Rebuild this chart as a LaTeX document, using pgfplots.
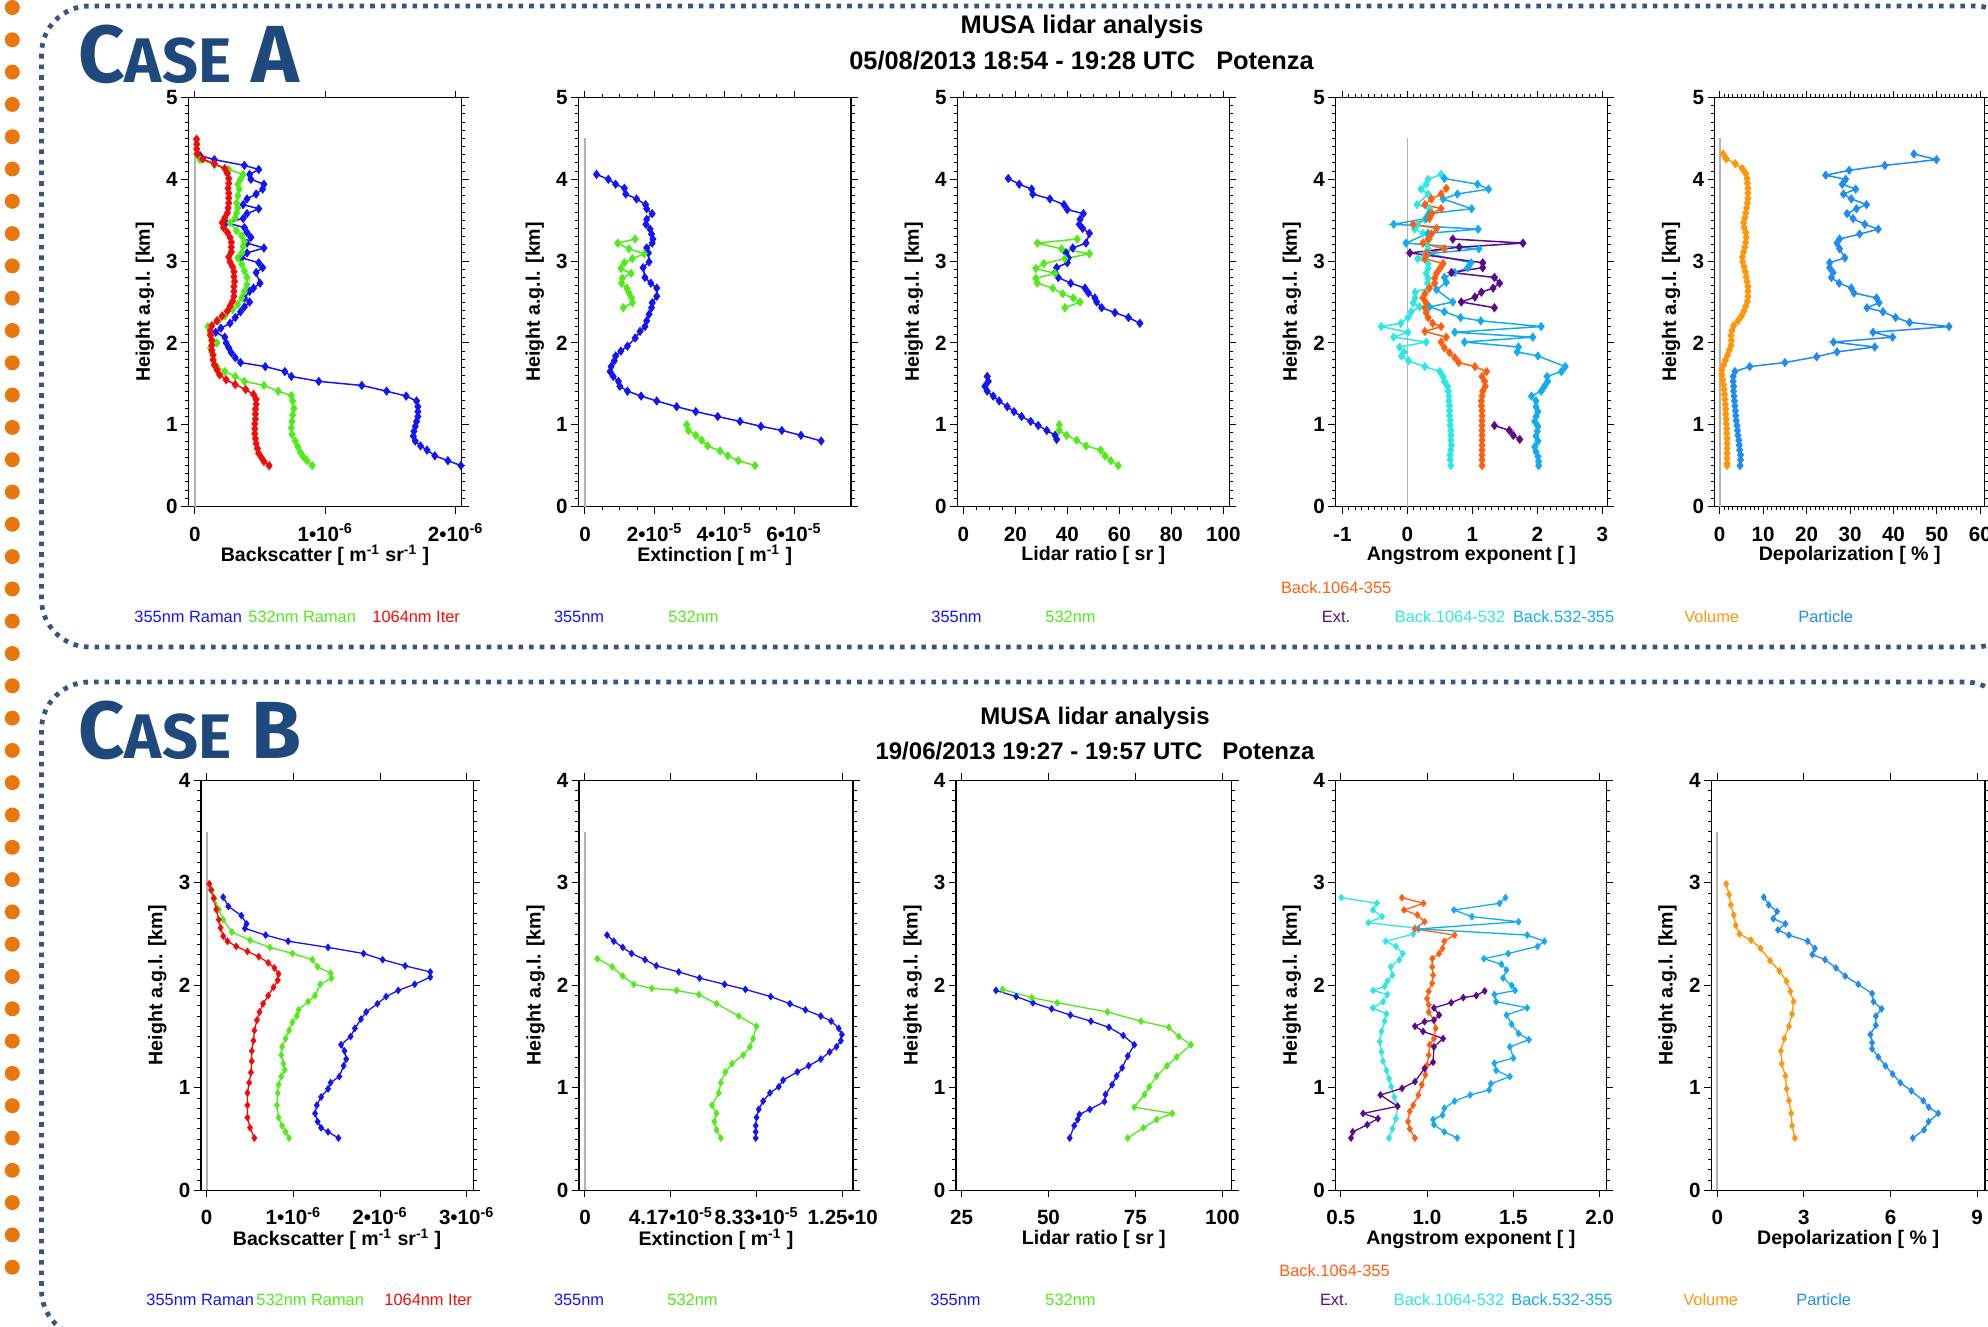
\documentclass[border=0pt]{standalone}
\usepackage{pgfplots}
\pgfplotsset{compat=1.18}
\usepackage{fontspec}
\setmainfont{Liberation Sans}
\newfontfamily\casefont{Fira Sans}

\definecolor{cblue}{RGB}{20,20,245}
\definecolor{cgreen}{RGB}{80,235,25}
\definecolor{cred}{RGB}{245,10,10}
\definecolor{corange}{RGB}{255,95,15}
\definecolor{cpurple}{RGB}{90,10,140}
\definecolor{ccyan}{RGB}{45,232,225}
\definecolor{csky}{RGB}{20,170,240}
\definecolor{cvol}{RGB}{255,150,10}
\definecolor{cpart}{RGB}{30,140,240}
\definecolor{casecol}{RGB}{31,73,125}
\definecolor{bordercol}{RGB}{55,85,130}
\definecolor{dotcol}{RGB}{232,119,14}

\newcommand\legfont{\fontsize{8.2}{9}\selectfont}
\newcommand\tb{\textbullet}

\pgfplotsset{
  /pgf/number format/assume math mode=true,
  lid/.style={
    scale only axis, anchor=south west,
    axis line style={line width=0.7pt},
    tick align=outside, tick pos=both,
    major tick length=3.5pt, minor tick length=1.8pt,
    every tick/.append style={line width=0.5pt, black},
    minor y tick num=9,
    ymin=0,
    tick label style={font=\bfseries\fontsize{10.3}{11}\selectfont},
    xticklabel style={anchor=base, yshift=-13.8pt},
    yticklabel style={inner sep=1.6pt},
    label style={font=\bfseries\fontsize{9.8}{11}\selectfont},
    ylabel={Height a.g.l. [km]},
    ylabel style={at={([xshift=-21.75pt]axis description cs:0,0.5)}, anchor=center},
    xlabel style={at={([yshift=-24.5pt]axis description cs:0.5,0)}, anchor=center},
    every axis plot/.append style={line width=0.75pt, mark=diamond*, mark size=1.75pt, mark options={solid}},
  },
  la/.style={lid, height=204.5pt, ymax=5, ytick={0,1,2,3,4,5}},
  lb/.style={lid, height=205pt, ymax=4, ytick={0,1,2,3,4},
    every axis plot/.append style={mark size=1.45pt, line width=0.65pt}},
}

\begin{document}
\begin{tikzpicture}
\useasboundingbox (0,0) rectangle (994pt,-663.5pt);
\clip (0,0) rectangle (994pt,-663.5pt);

% slide decoration
\foreach \i in {0,...,39} \fill[dotcol] (6.15pt,{-(3.75+16.15*\i)*1pt}) circle[radius=3.75pt];
\draw[bordercol, line width=2.4pt, dash pattern=on 2.3pt off 3pt, rounded corners=24pt]
  (20.75pt,-3pt) rectangle (1011.5pt,-323.5pt);
\draw[bordercol, line width=2.4pt, dash pattern=on 2.3pt off 3pt, rounded corners=24pt]
  (20.75pt,-341pt) rectangle (1006.5pt,-669pt);

\node[anchor=base west, text=casecol, inner sep=0pt, text depth=0pt] at (39pt,-41.5pt)
  {\casefont\bfseries{\fontsize{40.5}{40}\selectfont C}{\fontsize{31.5}{32}\selectfont ASE}\hspace{10pt}{\fontsize{40.5}{40}\selectfont A}};
\node[anchor=base west, text=casecol, inner sep=0pt, text depth=0pt] at (39pt,-379.2pt)
  {\casefont\bfseries{\fontsize{40.5}{40}\selectfont C}{\fontsize{31.5}{32}\selectfont ASE}\hspace{10pt}{\fontsize{40.5}{40}\selectfont B}};

% titles
\node[anchor=base, font=\bfseries\fontsize{12.7}{14}\selectfont] at (541pt,-17pt) {MUSA lidar analysis};
\node[anchor=base, font=\bfseries\fontsize{12.7}{14}\selectfont] at (540.75pt,-34.85pt) {05/08/2013 18:54 - 19:28 UTC\ \ \ Potenza};
\node[anchor=base, font=\bfseries\fontsize{12}{14}\selectfont] at (547.5pt,-362.3pt) {MUSA lidar analysis};
\node[anchor=base, font=\bfseries\fontsize{12}{14}\selectfont] at (547.5pt,-379.8pt) {19/06/2013 19:27 - 19:57 UTC\ \ \ Potenza};

% ================= CASE A =================
\begin{axis}[la, at={(94.15pt,-253.25pt)}, width=136.7pt,
  xmin=-0.050, xmax=2.046, xtick={0,1,2},
  xticklabels={0, 1\tb10\textsuperscript{-6}, 2\tb10\textsuperscript{-6}},
  xlabel={Backscatter [ m\textsuperscript{-1} sr\textsuperscript{-1} ]}]
\addplot[gray!60, line width=0.8pt, mark=none] coordinates {(0,0) (0,4.5)};
\addplot[cblue] coordinates {(0.04,4.29) (0.15,4.24) (0.38,4.17) (0.49,4.12) (0.42,4.06) (0.43,4.00) (0.53,3.94) (0.52,3.88) (0.47,3.82) (0.40,3.76) (0.37,3.69) (0.49,3.64) (0.40,3.58) (0.37,3.52) (0.24,3.47) (0.38,3.41) (0.40,3.35) (0.43,3.29) (0.40,3.22) (0.53,3.16) (0.40,3.10) (0.36,3.04) (0.49,2.98) (0.52,2.92) (0.47,2.86) (0.50,2.73) (0.45,2.67) (0.42,2.63) (0.38,2.55) (0.42,2.50) (0.38,2.44) (0.35,2.38) (0.31,2.31) (0.27,2.24) (0.20,2.18) (0.16,2.13) (0.23,2.07) (0.24,2.00) (0.26,1.94) (0.28,1.88) (0.31,1.82) (0.35,1.76) (0.54,1.71) (0.69,1.65) (0.74,1.59) (0.95,1.53) (1.28,1.48) (1.47,1.41) (1.62,1.35) (1.70,1.29) (1.71,1.22) (1.71,1.16) (1.71,1.10) (1.70,1.04) (1.69,0.98) (1.68,0.92) (1.675,0.86) (1.69,0.80) (1.73,0.74) (1.78,0.69) (1.84,0.62) (1.94,0.56) (2.04,0.50)};
\addplot[cgreen] coordinates {(0.013,4.31) (0.04,4.24) (0.15,4.18) (0.26,4.12) (0.37,4.06) (0.35,4.00) (0.33,3.94) (0.34,3.88) (0.33,3.80) (0.32,3.71) (0.33,3.65) (0.32,3.59) (0.31,3.53) (0.27,3.47) (0.32,3.37) (0.36,3.31) (0.38,3.24) (0.37,3.18) (0.36,3.10) (0.33,3.04) (0.36,2.96) (0.38,2.88) (0.40,2.80) (0.40,2.71) (0.38,2.63) (0.36,2.55) (0.33,2.47) (0.29,2.41) (0.23,2.33) (0.18,2.27) (0.10,2.20) (0.115,2.12) (0.17,2.00) (0.12,1.94) (0.13,1.88) (0.14,1.80) (0.17,1.71) (0.23,1.65) (0.31,1.59) (0.38,1.53) (0.53,1.48) (0.64,1.41) (0.74,1.355) (0.75,1.29) (0.76,1.20) (0.75,1.12) (0.745,1.04) (0.74,0.96) (0.745,0.88) (0.77,0.80) (0.79,0.73) (0.81,0.66) (0.83,0.61) (0.86,0.56) (0.90,0.50)};
\addplot[cred] coordinates {(0.013,4.49) (0.015,4.43) (0.015,4.37) (0.02,4.31) (0.06,4.25) (0.15,4.19) (0.23,4.13) (0.25,4.07) (0.26,4.01) (0.26,3.95) (0.255,3.89) (0.26,3.83) (0.26,3.77) (0.26,3.71) (0.255,3.65) (0.25,3.59) (0.23,3.53) (0.21,3.47) (0.22,3.41) (0.25,3.35) (0.27,3.29) (0.28,3.23) (0.28,3.17) (0.28,3.11) (0.26,3.05) (0.27,2.99) (0.29,2.93) (0.30,2.87) (0.30,2.81) (0.305,2.75) (0.30,2.69) (0.30,2.63) (0.30,2.57) (0.29,2.51) (0.27,2.45) (0.25,2.39) (0.21,2.33) (0.17,2.27) (0.13,2.21) (0.12,2.15) (0.12,2.09) (0.13,2.03) (0.13,1.97) (0.13,1.91) (0.14,1.85) (0.14,1.79) (0.15,1.73) (0.17,1.67) (0.19,1.61) (0.24,1.55) (0.31,1.49) (0.39,1.43) (0.45,1.37) (0.47,1.31) (0.47,1.25) (0.465,1.19) (0.465,1.13) (0.465,1.07) (0.46,1.01) (0.46,0.95) (0.46,0.89) (0.465,0.83) (0.47,0.77) (0.48,0.71) (0.49,0.65) (0.51,0.60) (0.53,0.55) (0.57,0.50)};
\end{axis}

\begin{axis}[la, at={(289.15pt,-253.25pt)}, width=136.35pt,
  xmin=-0.192, xmax=7.636, xtick={0,2,4,6}, minor x tick num=3,
  xticklabels={0, 2\tb10\textsuperscript{-5}, 4\tb10\textsuperscript{-5}, 6\tb10\textsuperscript{-5}},
  xlabel={Extinction [ m\textsuperscript{-1} ]}]
\addplot[gray!60, line width=0.8pt, mark=none] coordinates {(0,0) (0,4.5)};
\addplot[cblue] coordinates {(0.33,4.06) (0.67,4.00) (0.88,3.94) (1.13,3.89) (1.17,3.82) (1.48,3.76) (1.74,3.69) (1.77,3.64) (1.93,3.58) (1.77,3.51) (1.75,3.45) (1.87,3.39) (1.91,3.33) (1.95,3.27) (1.93,3.22) (1.77,3.16) (1.82,3.10) (1.84,2.99) (1.67,2.92) (1.72,2.80) (1.89,2.73) (2.06,2.67) (2.06,2.57) (1.93,2.49) (1.91,2.43) (1.84,2.35) (1.77,2.27) (1.72,2.20) (1.58,2.14) (1.44,2.06) (1.22,1.96) (1.03,1.90) (0.88,1.84) (0.84,1.78) (0.75,1.71) (0.72,1.65) (0.81,1.59) (0.96,1.53) (1.00,1.47) (1.22,1.41) (1.61,1.35) (2.06,1.29) (2.63,1.22) (3.18,1.16) (3.81,1.10) (4.45,1.04) (5.05,0.98) (5.65,0.93) (6.20,0.87) (6.78,0.80)};
\addplot[cgreen] coordinates {(1.44,3.27) (0.94,3.22) (1.26,3.15) (1.70,3.09) (1.36,3.03) (1.13,2.98) (1.03,2.91) (1.32,2.85) (1.07,2.79) (1.05,2.73) (1.20,2.67) (1.26,2.61) (1.34,2.55) (1.36,2.49) (1.10,2.43)};
\addplot[cgreen] coordinates {(2.92,1.00) (2.97,0.93) (3.18,0.87) (3.35,0.81) (3.52,0.74) (3.88,0.68) (4.10,0.62) (4.40,0.56) (4.88,0.50)};
\end{axis}

\begin{axis}[la, at={(478.65pt,-253.25pt)}, width=136pt,
  xmin=-2.31, xmax=102.3, xtick={0,20,40,60,80,100}, minor x tick num=3,
  xticklabels={0,20,40,60,80,100},
  xlabel={Lidar ratio [ sr ]}]
\addplot[cblue] coordinates {(17.3,4.01) (21.5,3.94) (26.3,3.88) (26.7,3.82) (33.3,3.76) (38.7,3.69) (40.0,3.63) (46.2,3.58) (44.9,3.51) (44.6,3.45) (45.9,3.40) (48.5,3.34) (47.2,3.22) (42.1,3.16) (39.5,3.10) (40.4,3.04) (40.0,2.98) (35.9,2.92) (35.3,2.86) (36.5,2.80) (41.3,2.73) (46.8,2.67) (48.1,2.61) (50.6,2.55) (51.3,2.50) (53.2,2.43) (58.3,2.37) (63.5,2.31) (67.9,2.24)};
\addplot[cgreen] coordinates {(43.8,3.27) (28.5,3.22) (37.8,3.15) (48.5,3.09) (39.1,3.03) (31.0,2.97) (27.9,2.91) (35.3,2.85) (27.9,2.79) (28.5,2.73) (34.4,2.67) (38.2,2.60) (42.3,2.55) (44.9,2.50) (39.1,2.43)};
\addplot[cblue] coordinates {(9.2,1.59) (9.6,1.53) (8.3,1.47) (9.2,1.41) (11.5,1.35) (13.8,1.29) (16.9,1.22) (19.5,1.16) (22.4,1.10) (25.9,1.04) (28.8,0.99) (32.1,0.93) (35.3,0.87) (35.9,0.82)};
\addplot[cgreen] coordinates {(36.9,1.00) (36.9,0.93) (39.7,0.87) (43.6,0.81) (47.2,0.74) (52.8,0.69) (54.5,0.62) (56.7,0.56) (59.6,0.50)};
\end{axis}

\begin{axis}[la, at={(667.65pt,-253.25pt)}, width=136pt,
  xmin=-1.108, xmax=3.077, xtick={-1,0,1,2,3}, minor x tick num=9,
  xticklabels={-1,0,1,2,3},
  xlabel={Angstrom exponent [ ]}]
\addplot[gray!60, line width=0.8pt, mark=none] coordinates {(0,0) (0,4.5)};
\addplot[ccyan] coordinates {(0.52,4.06) (0.32,4.00) (0.29,3.94) (0.21,3.88) (0.32,3.82) (0.15,3.69) (0.34,3.64) (0.32,3.57) (0.27,3.51) (0.16,3.45) (0.11,3.39) (0.24,3.34) (0.34,3.27) (0.29,3.22) (0.32,3.15) (0.27,3.09) (0.16,3.03) (0.32,2.97) (0.32,2.91) (0.29,2.85) (0.32,2.79) (0.31,2.73) (0.33,2.67) (0.12,2.62) (0.12,2.55) (0.09,2.49) (0.19,2.44) (0.06,2.38) (0.01,2.31) (-0.10,2.24) (-0.40,2.20) (0.01,2.13) (-0.21,2.07) (0.29,2.01) (-0.12,1.95) (-0.05,1.89) (-0.09,1.84) (0.02,1.78) (0.27,1.71) (0.50,1.65) (0.55,1.59) (0.57,1.53) (0.62,1.47) (0.63,1.41) (0.64,1.35) (0.64,1.29) (0.65,1.23) (0.65,1.17) (0.65,1.11) (0.66,1.05) (0.66,0.99) (0.67,0.93) (0.67,0.87) (0.67,0.81) (0.68,0.75) (0.67,0.69) (0.66,0.63) (0.66,0.57) (0.67,0.50)};
\addplot[csky] coordinates {(0.57,4.01) (1.08,3.94) (1.25,3.88) (0.77,3.82) (0.55,3.76) (0.99,3.64) (0.34,3.58) (0.29,3.52) (-0.21,3.45) (1.09,3.39) (0.32,3.34) (-0.02,3.22) (1.10,3.15) (0.32,3.09) (0.98,2.98) (0.93,2.92) (0.73,2.86) (0.57,2.80) (0.60,2.74) (0.45,2.65) (0.70,2.50) (0.34,2.44) (0.57,2.38) (0.82,2.31) (1.13,2.27) (2.06,2.20) (0.73,2.13) (1.93,2.07) (0.88,2.01) (1.71,1.95) (1.69,1.89) (2.01,1.84) (2.43,1.71) (2.37,1.65) (2.15,1.59) (2.16,1.53) (2.11,1.47) (2.06,1.41) (1.91,1.35) (1.98,1.29) (1.98,1.22) (2.01,1.16) (1.98,1.10) (1.96,1.04) (2.01,0.98) (2.00,0.92) (1.98,0.86) (2.01,0.80) (1.96,0.73) (1.98,0.67) (2.01,0.61) (2.02,0.55) (2.02,0.50)};
\addplot[corange] coordinates {(0.60,3.89) (0.52,3.82) (0.37,3.76) (0.27,3.69) (0.52,3.64) (0.38,3.58) (0.34,3.52) (0.09,3.45) (0.45,3.40) (0.37,3.33) (0.32,3.27) (0.24,3.22) (0.57,3.15) (0.29,3.09) (0.27,3.03) (0.55,2.97) (0.50,2.91) (0.45,2.85) (0.42,2.79) (0.42,2.73) (0.34,2.67) (0.27,2.60) (0.24,2.55) (0.29,2.49) (0.27,2.43) (0.29,2.37) (0.32,2.31) (0.39,2.24) (0.52,2.20) (0.27,2.14) (0.60,2.07) (0.52,2.01) (0.57,1.94) (0.65,1.88) (0.73,1.82) (0.79,1.76) (1.04,1.71) (1.22,1.65) (1.15,1.59) (1.19,1.53) (1.20,1.47) (1.16,1.41) (1.15,1.35) (1.14,1.29) (1.14,1.23) (1.15,1.17) (1.15,1.11) (1.15,1.05) (1.15,0.99) (1.15,0.93) (1.15,0.87) (1.15,0.81) (1.15,0.75) (1.15,0.69) (1.15,0.63) (1.15,0.57) (1.15,0.50)};
\addplot[cpurple] coordinates {(0.70,3.27) (1.78,3.22) (0.80,3.17) (0.04,3.10) (1.16,2.98) (1.16,2.92) (0.68,2.86) (1.34,2.80) (1.42,2.73) (1.32,2.67) (1.14,2.62) (1.04,2.56) (0.83,2.50) (1.34,2.43)};
\addplot[cpurple] coordinates {(1.34,0.99) (1.57,0.93) (1.63,0.87) (1.73,0.82)};
\end{axis}

\begin{axis}[la, at={(857.35pt,-253.25pt)}, width=135pt,
  xmin=-1.15, xmax=61.0, xtick={0,10,20,30,40,50,60}, minor x tick num=9,
  xticklabels={0,10,20,30,40,50,60},
  xlabel={Depolarization [ \% ]}]
\addplot[gray!60, line width=0.8pt, mark=none] coordinates {(0,0) (0,4.5)};
\addplot[cvol] coordinates {(0.8,4.31) (1.5,4.25) (3.6,4.19) (5.2,4.13) (6.0,4.07) (6.3,4.01) (6.4,3.95) (6.5,3.89) (6.5,3.83) (6.5,3.77) (6.4,3.71) (6.2,3.65) (6.0,3.59) (5.8,3.53) (5.5,3.47) (5.6,3.41) (6.0,3.35) (6.1,3.29) (6.0,3.23) (5.8,3.17) (5.5,3.11) (5.2,3.05) (5.3,2.99) (5.6,2.93) (5.9,2.87) (6.1,2.81) (6.3,2.75) (6.5,2.69) (6.5,2.63) (6.5,2.57) (6.4,2.51) (6.0,2.45) (5.6,2.39) (5.0,2.33) (4.2,2.27) (3.2,2.21) (2.8,2.15) (2.6,2.09) (2.7,2.03) (2.6,1.97) (2.2,1.91) (1.8,1.85) (1.3,1.79) (0.9,1.73) (0.5,1.67) (0.5,1.61) (0.7,1.55) (0.9,1.49) (1.0,1.43) (1.1,1.37) (1.2,1.31) (1.3,1.25) (1.4,1.19) (1.4,1.13) (1.5,1.07) (1.5,1.01) (1.6,0.95) (1.6,0.89) (1.7,0.83) (1.7,0.77) (1.7,0.71) (1.7,0.65) (1.7,0.59) (1.7,0.53) (1.7,0.50)};
\addplot[cpart] coordinates {(44.7,4.31) (49.9,4.24) (38.0,4.17) (29.8,4.11) (24.4,4.05) (29.0,4.00) (28.2,3.94) (31.3,3.88) (28.5,3.82) (30.3,3.76) (33.8,3.69) (31.5,3.64) (29.3,3.58) (30.7,3.52) (33.4,3.45) (36.5,3.39) (32.2,3.33) (27.6,3.27) (27.0,3.22) (27.6,3.15) (28.8,3.04) (25.3,2.98) (25.3,2.92) (26.1,2.86) (25.7,2.80) (27.5,2.73) (30.3,2.67) (30.9,2.61) (36.1,2.55) (36.7,2.49) (33.9,2.43) (37.6,2.38) (40.5,2.31) (43.7,2.25) (52.8,2.20) (35.3,2.13) (39.8,2.07) (26.2,2.01) (35.7,1.95) (27.0,1.89) (22.3,1.83) (15.0,1.76) (6.9,1.71) (3.5,1.65) (3.1,1.59) (3.1,1.53) (3.2,1.47) (3.2,1.41) (3.3,1.35) (3.4,1.29) (3.5,1.23) (3.6,1.17) (3.7,1.11) (3.8,1.05) (4.0,0.99) (4.1,0.93) (4.2,0.87) (4.4,0.81) (4.5,0.75) (4.6,0.69) (4.8,0.63) (4.8,0.57) (4.7,0.50)};
\end{axis}

% ================= CASE B =================
\begin{axis}[lb, at={(100.45pt,-595.15pt)}, width=136.15pt,
  xmin=-0.067, xmax=3.075, xtick={0,1,2,3},
  xticklabels={0, 1\tb10\textsuperscript{-6}, 2\tb10\textsuperscript{-6}, 3\tb10\textsuperscript{-6}},
  xlabel={Backscatter [ m\textsuperscript{-1} sr\textsuperscript{-1} ]}]
\addplot[gray!60, line width=0.8pt, mark=none] coordinates {(0,0) (0,3.5)};
\addplot[cblue] coordinates {(0.19,2.86) (0.25,2.77) (0.40,2.68) (0.46,2.60) (0.44,2.555) (0.68,2.49) (0.94,2.43) (1.40,2.37) (1.81,2.31) (2.03,2.25) (2.29,2.19) (2.58,2.13) (2.58,2.08) (2.40,2.01) (2.21,1.95) (2.07,1.89) (1.97,1.82) (1.84,1.74) (1.78,1.67) (1.71,1.58) (1.66,1.50) (1.55,1.42) (1.59,1.36) (1.61,1.28) (1.58,1.215) (1.53,1.11) (1.43,1.05) (1.40,0.99) (1.32,0.91) (1.27,0.83) (1.25,0.75) (1.28,0.67) (1.32,0.61) (1.40,0.57) (1.52,0.51)};
\addplot[cgreen] coordinates {(0.06,2.93) (0.09,2.85) (0.14,2.74) (0.19,2.64) (0.29,2.52) (0.50,2.44) (0.73,2.37) (0.99,2.31) (1.22,2.25) (1.28,2.18) (1.43,2.12) (1.44,2.07) (1.31,2.01) (1.25,1.90) (1.17,1.84) (1.06,1.76) (1.04,1.70) (0.99,1.64) (0.95,1.56) (0.91,1.48) (0.87,1.40) (0.86,1.32) (0.885,1.235) (0.90,1.175) (0.86,1.11) (0.83,1.03) (0.82,0.95) (0.81,0.83) (0.83,0.71) (0.87,0.63) (0.91,0.57) (0.95,0.51)};
\addplot[cred] coordinates {(0.03,2.99) (0.05,2.93) (0.08,2.85) (0.11,2.74) (0.14,2.64) (0.16,2.56) (0.19,2.48) (0.24,2.43) (0.34,2.38) (0.47,2.33) (0.60,2.28) (0.71,2.22) (0.78,2.17) (0.83,2.11) (0.82,2.05) (0.77,1.98) (0.71,1.90) (0.65,1.82) (0.61,1.74) (0.58,1.66) (0.55,1.56) (0.54,1.46) (0.52,1.36) (0.52,1.26) (0.51,1.15) (0.49,1.05) (0.47,0.95) (0.47,0.83) (0.47,0.71) (0.50,0.61) (0.55,0.51)};
\end{axis}

\begin{axis}[lb, at={(289.5pt,-595.15pt)}, width=137pt,
  xmin=-0.29, xmax=13.0, xtick={0,4.17,8.33,12.5},
  xticklabels={0, 4.17\tb10\textsuperscript{-5}, 8.33\tb10\textsuperscript{-5}, 1.25\tb10},
  xlabel={Extinction [ m\textsuperscript{-1} ]}]
\addplot[gray!60, line width=0.8pt, mark=none] coordinates {(0,0) (0,3.5)};
\addplot[cblue] coordinates {(1.07,2.49) (1.40,2.43) (1.83,2.37) (2.26,2.31) (2.91,2.25) (3.46,2.19) (4.55,2.13) (5.56,2.07) (6.77,2.01) (7.78,1.96) (9.01,1.89) (9.94,1.82) (10.69,1.76) (11.44,1.70) (11.94,1.65) (12.31,1.58) (12.46,1.52) (12.41,1.46) (12.20,1.40) (11.87,1.35) (11.44,1.28) (10.85,1.215) (10.30,1.155) (9.61,1.075) (9.40,1.01) (8.97,0.95) (8.64,0.87) (8.43,0.79) (8.32,0.71) (8.28,0.63) (8.28,0.57) (8.28,0.51)};
\addplot[cgreen] coordinates {(0.60,2.26) (1.33,2.18) (1.83,2.09) (2.37,2.01) (3.24,1.97) (4.44,1.95) (5.52,1.91) (6.38,1.82) (7.46,1.70) (8.32,1.60) (8.15,1.48) (8.00,1.40) (7.67,1.32) (7.13,1.235) (6.81,1.155) (6.59,1.05) (6.49,0.95) (6.16,0.83) (6.38,0.75) (6.27,0.67) (6.38,0.59) (6.59,0.51)};
\end{axis}

\begin{axis}[lb, at={(478pt,-595.15pt)}, width=137.85pt,
  xmin=23.4, xmax=102.7, xtick={25,50,75,100},
  xticklabels={25,50,75,100},
  xlabel={Lidar ratio [ sr ]}]
\addplot[cblue] coordinates {(34.9,1.95) (40.7,1.89) (45.5,1.83) (50.9,1.77) (56.3,1.71) (62.2,1.65) (67.4,1.59) (71.5,1.51) (74.7,1.42) (72.8,1.31) (71.2,1.195) (69.6,1.115) (68.3,1.03) (66.4,0.935) (66.1,0.865) (61.9,0.79) (58.9,0.74) (58.4,0.69) (57.4,0.63) (56.1,0.51)};
\addplot[cgreen] coordinates {(36.8,1.96) (45.2,1.88) (52.5,1.83) (67.0,1.74) (76.6,1.65) (84.6,1.59) (87.5,1.50) (91.0,1.42) (86.9,1.30) (84.1,1.215) (81.1,1.115) (79.0,1.01) (77.6,0.935) (74.7,0.81) (85.6,0.75) (81.1,0.69) (77.3,0.61) (72.8,0.51)};
\end{axis}

\begin{axis}[lb, at={(667.65pt,-595.15pt)}, width=135.5pt,
  xmin=0.469, xmax=2.038, xtick={0.5,1,1.5,2},
  xticklabels={0.5,1.0,1.5,2.0},
  xlabel={Angstrom exponent [ ]}]
\addplot[ccyan] coordinates {(0.504,2.855) (0.71,2.80) (0.687,2.735) (0.74,2.67) (0.66,2.61) (0.93,2.56) (0.92,2.50) (0.76,2.43) (0.82,2.38) (0.86,2.31) (0.84,2.25) (0.79,2.18) (0.80,2.10) (0.77,2.04) (0.755,1.99) (0.687,1.95) (0.77,1.91) (0.745,1.84) (0.687,1.78) (0.765,1.72) (0.755,1.65) (0.736,1.55) (0.726,1.45) (0.736,1.35) (0.745,1.26) (0.765,1.17) (0.78,1.09) (0.793,1.01) (0.81,0.91) (0.83,0.82) (0.82,0.70) (0.80,0.60) (0.78,0.51)};
\addplot[csky] coordinates {(1.454,2.855) (1.42,2.80) (1.156,2.735) (1.26,2.67) (1.53,2.62) (0.95,2.55) (1.58,2.49) (1.68,2.43) (1.64,2.38) (1.47,2.31) (1.33,2.26) (1.43,2.205) (1.46,2.15) (1.44,2.07) (1.49,2.00) (1.51,1.95) (1.39,1.91) (1.40,1.84) (1.58,1.78) (1.46,1.71) (1.49,1.62) (1.53,1.53) (1.59,1.47) (1.48,1.40) (1.50,1.29) (1.39,1.24) (1.40,1.17) (1.48,1.11) (1.37,1.04) (1.36,0.98) (1.25,0.93) (1.16,0.87) (1.10,0.80) (1.09,0.735) (1.035,0.69) (1.04,0.64) (1.10,0.57) (1.175,0.51)};
\addplot[corange] coordinates {(0.855,2.855) (0.98,2.80) (0.867,2.735) (0.944,2.686) (0.986,2.62) (0.929,2.55) (1.16,2.49) (1.10,2.43) (1.09,2.36) (1.07,2.31) (1.03,2.26) (1.03,2.18) (1.035,2.10) (1.03,2.02) (1.01,1.94) (1.00,1.87) (1.01,1.81) (1.01,1.74) (1.04,1.66) (1.05,1.58) (1.04,1.48) (1.015,1.42) (1.01,1.32) (1.00,1.22) (0.99,1.125) (0.97,1.03) (0.95,0.93) (0.92,0.83) (0.90,0.77) (0.89,0.67) (0.90,0.60) (0.93,0.51)};
\addplot[cpurple] coordinates {(1.334,1.945) (1.285,1.90) (1.21,1.88) (1.14,1.83) (1.04,1.78) (1.07,1.71) (1.04,1.66) (0.986,1.645) (0.93,1.60) (0.977,1.55) (1.093,1.48) (1.04,1.40) (1.035,1.25) (0.986,1.19) (0.93,1.06) (0.855,0.995) (0.73,0.93) (0.83,0.82) (0.63,0.75) (0.716,0.70) (0.654,0.64) (0.57,0.57) (0.56,0.51)};
\end{axis}

\begin{axis}[lb, at={(855.6pt,-595.15pt)}, width=136.9pt,
  xmin=-0.21, xmax=9.27, xtick={0,3,6,9},
  xticklabels={0,3,6,9},
  xlabel={Depolarization [ \% ]}]
\addplot[gray!60, line width=0.8pt, mark=none] coordinates {(0,0) (0,3.5)};
\addplot[cvol] coordinates {(0.31,2.99) (0.41,2.885) (0.47,2.785) (0.57,2.685) (0.64,2.585) (0.77,2.50) (1.17,2.44) (1.50,2.36) (1.83,2.24) (2.15,2.14) (2.40,2.04) (2.53,1.94) (2.64,1.84) (2.59,1.72) (2.48,1.60) (2.32,1.48) (2.20,1.36) (2.23,1.235) (2.36,1.115) (2.40,0.99) (2.48,0.875) (2.56,0.75) (2.59,0.63) (2.69,0.51)};
\addplot[cpart] coordinates {(1.61,2.86) (1.78,2.785) (2.07,2.72) (1.94,2.65) (2.36,2.60) (2.10,2.54) (2.48,2.49) (3.13,2.43) (3.38,2.36) (3.29,2.30) (3.73,2.25) (4.11,2.17) (4.43,2.09) (4.88,2.01) (5.36,1.92) (5.41,1.84) (5.69,1.77) (5.49,1.70) (5.49,1.61) (5.30,1.52) (5.36,1.44) (5.36,1.38) (5.58,1.30) (5.82,1.215) (6.07,1.135) (6.34,1.05) (6.72,0.97) (7.13,0.875) (7.32,0.81) (7.65,0.75) (7.32,0.67) (7.16,0.59) (6.77,0.51)};
\end{axis}

% legends, case A
\begin{scope}[every node/.style={anchor=base west, font=\legfont, inner sep=0pt}]
\node[text=cblue] at (67pt,-311pt) {355nm Raman};
\node[text=cgreen] at (124pt,-311pt) {532nm Raman};
\node[text=cred] at (186pt,-311pt) {1064nm Iter};
\node[text=cblue] at (276.8pt,-311pt) {355nm};
\node[text=cgreen] at (334pt,-311pt) {532nm};
\node[text=cblue] at (465.5pt,-311pt) {355nm};
\node[text=cgreen] at (522.5pt,-311pt) {532nm};
\node[text=corange] at (640.3pt,-296.85pt) {Back.1064-355};
\node[text=cpurple] at (660.75pt,-311pt) {Ext.};
\node[text=ccyan] at (697.25pt,-311pt) {Back.1064-532};
\node[text=csky] at (756.3pt,-311pt) {Back.532-355};
\node[text=cvol] at (842pt,-311pt) {Volume};
\node[text=cpart] at (899pt,-311pt) {Particle};
% legends, case B
\node[text=cblue] at (73pt,-652.5pt) {355nm Raman};
\node[text=cgreen] at (128pt,-652.5pt) {532nm Raman};
\node[text=cred] at (192pt,-652.5pt) {1064nm Iter};
\node[text=cblue] at (276.8pt,-652.5pt) {355nm};
\node[text=cgreen] at (333.5pt,-652.5pt) {532nm};
\node[text=cblue] at (465pt,-652.5pt) {355nm};
\node[text=cgreen] at (522.5pt,-652.5pt) {532nm};
\node[text=corange] at (639.5pt,-638.15pt) {Back.1064-355};
\node[text=cpurple] at (659.8pt,-652.5pt) {Ext.};
\node[text=ccyan] at (696.75pt,-652.5pt) {Back.1064-532};
\node[text=csky] at (755.5pt,-652.5pt) {Back.532-355};
\node[text=cvol] at (841.5pt,-652.5pt) {Volume};
\node[text=cpart] at (898pt,-652.5pt) {Particle};
\end{scope}
\end{tikzpicture}
\end{document}
